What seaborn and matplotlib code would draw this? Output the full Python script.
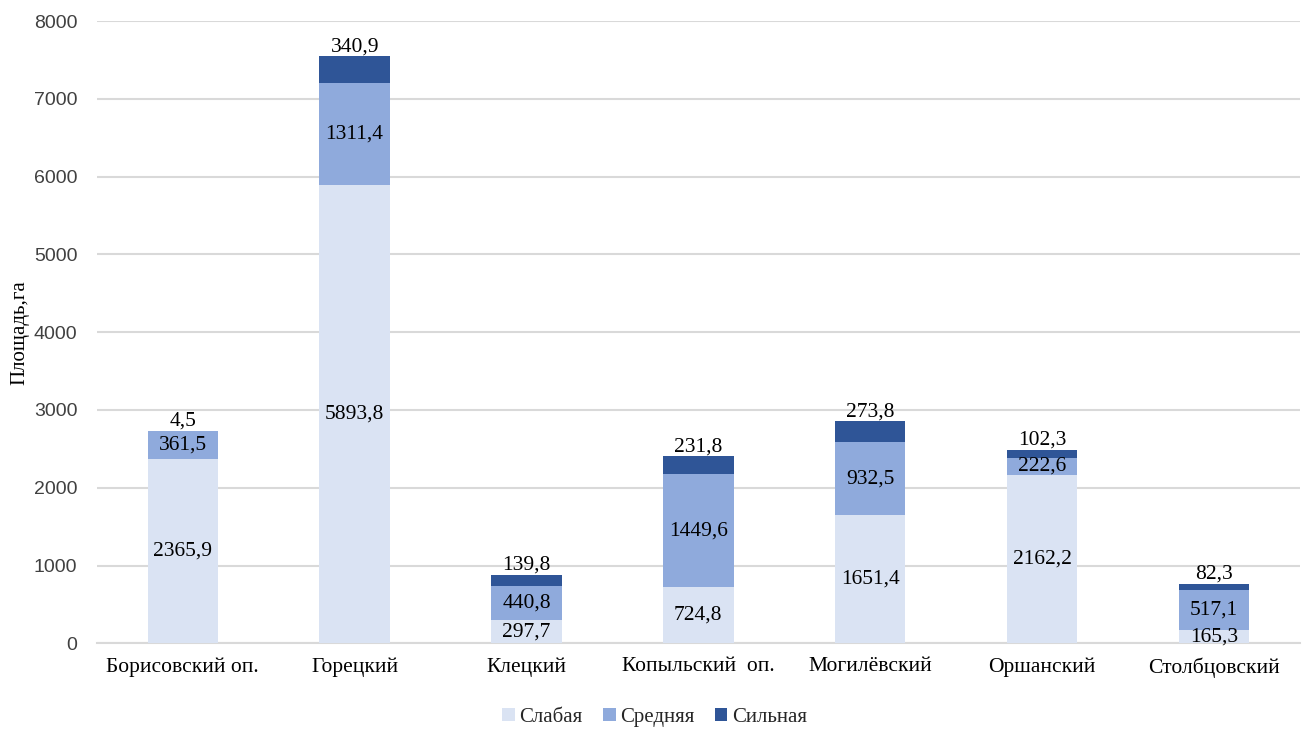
import numpy as np
import pandas as pd
import matplotlib
matplotlib.use("Agg")
import matplotlib.pyplot as plt
import seaborn as sns
from matplotlib.patches import Patch

districts = ["Борисовский оп.", "Горецкий", "Клецкий", "Копыльский  оп.",
             "Могилёвский", "Оршанский", "Столбцовский"]
weak = [2365.9, 5893.8, 297.7, 724.8, 1651.4, 2162.2, 165.3]
medium = [361.5, 1311.4, 440.8, 1449.6, 932.5, 222.6, 517.1]
strong = [4.5, 340.9, 139.8, 231.8, 273.8, 102.3, 82.3]
series_names = ["Слабая", "Средняя", "Сильная"]
colors = ["#DAE3F3", "#8FAADC", "#2F5597"]
yticks = [0, 1000, 2000, 3000, 4000, 5000, 6000, 7000, 8000]

sns.set_theme(style="white")
plt.rcParams["font.family"] = ["Liberation Serif", "DejaVu Serif"]

fig = plt.figure(figsize=(13.09, 7.31), dpi=100)
ax = fig.add_axes([0.074, 0.120, 0.919, 0.851])

df = pd.DataFrame({"district": districts, "weak": weak,
                   "medium": medium, "strong": strong})
bottoms = [np.zeros(len(df)), df["weak"].values,
           (df["weak"] + df["medium"]).values]
cols = ["weak", "medium", "strong"]

for col, bot, color in zip(cols, bottoms, colors):
    sns.barplot(data=df, x="district", y=col, bottom=bot, color=color,
                width=0.41, saturation=1, ax=ax, linewidth=0, zorder=3)

def fmt(v):
    return f"{v:.1f}".replace(".", ",")

for i, (cont, col) in enumerate(zip(ax.containers, cols)):
    labels = [fmt(v) for v in df[col]]
    if i < 2:
        ax.bar_label(cont, labels=labels, label_type="center",
                     fontsize=15.5, color="#000000")
    else:
        ax.bar_label(cont, labels=labels, label_type="edge", padding=0,
                     fontsize=15.5, color="#000000")

ax.set_ylim(0, 8000)
ax.set_xlim(-0.5, len(districts) - 0.5)
ax.set_yticks(yticks)
ax.set_yticklabels([str(t) for t in yticks], family="Liberation Sans",
                   fontsize=14, color="#404040")
ax.tick_params(axis="y", length=0, pad=14)
ax.tick_params(axis="x", length=0, pad=10, labelsize=15.5, colors="#000000")
ax.set_xlabel("")
ax.set_ylabel("Площадь,га", fontsize=15, color="#000000")
ax.yaxis.set_label_coords(-0.056, 0.5)

ax.grid(axis="y", color="#D9D9D9", linewidth=1.5, zorder=0)
ax.set_axisbelow(True)
for s in ["top", "right", "left"]:
    ax.spines[s].set_visible(False)
ax.spines["bottom"].set_color("#D9D9D9")
ax.spines["bottom"].set_linewidth(1.5)

handles = [Patch(facecolor=c, edgecolor="none", label=n)
           for c, n in zip(colors, series_names)]
fig.legend(handles=handles, loc="center", bbox_to_anchor=(0.5, 0.019),
           ncol=3, frameon=False, fontsize=15, handlelength=0.6,
           handleheight=0.6, handletextpad=0.2, columnspacing=1.0)

fig.savefig("out.png", dpi=100)
